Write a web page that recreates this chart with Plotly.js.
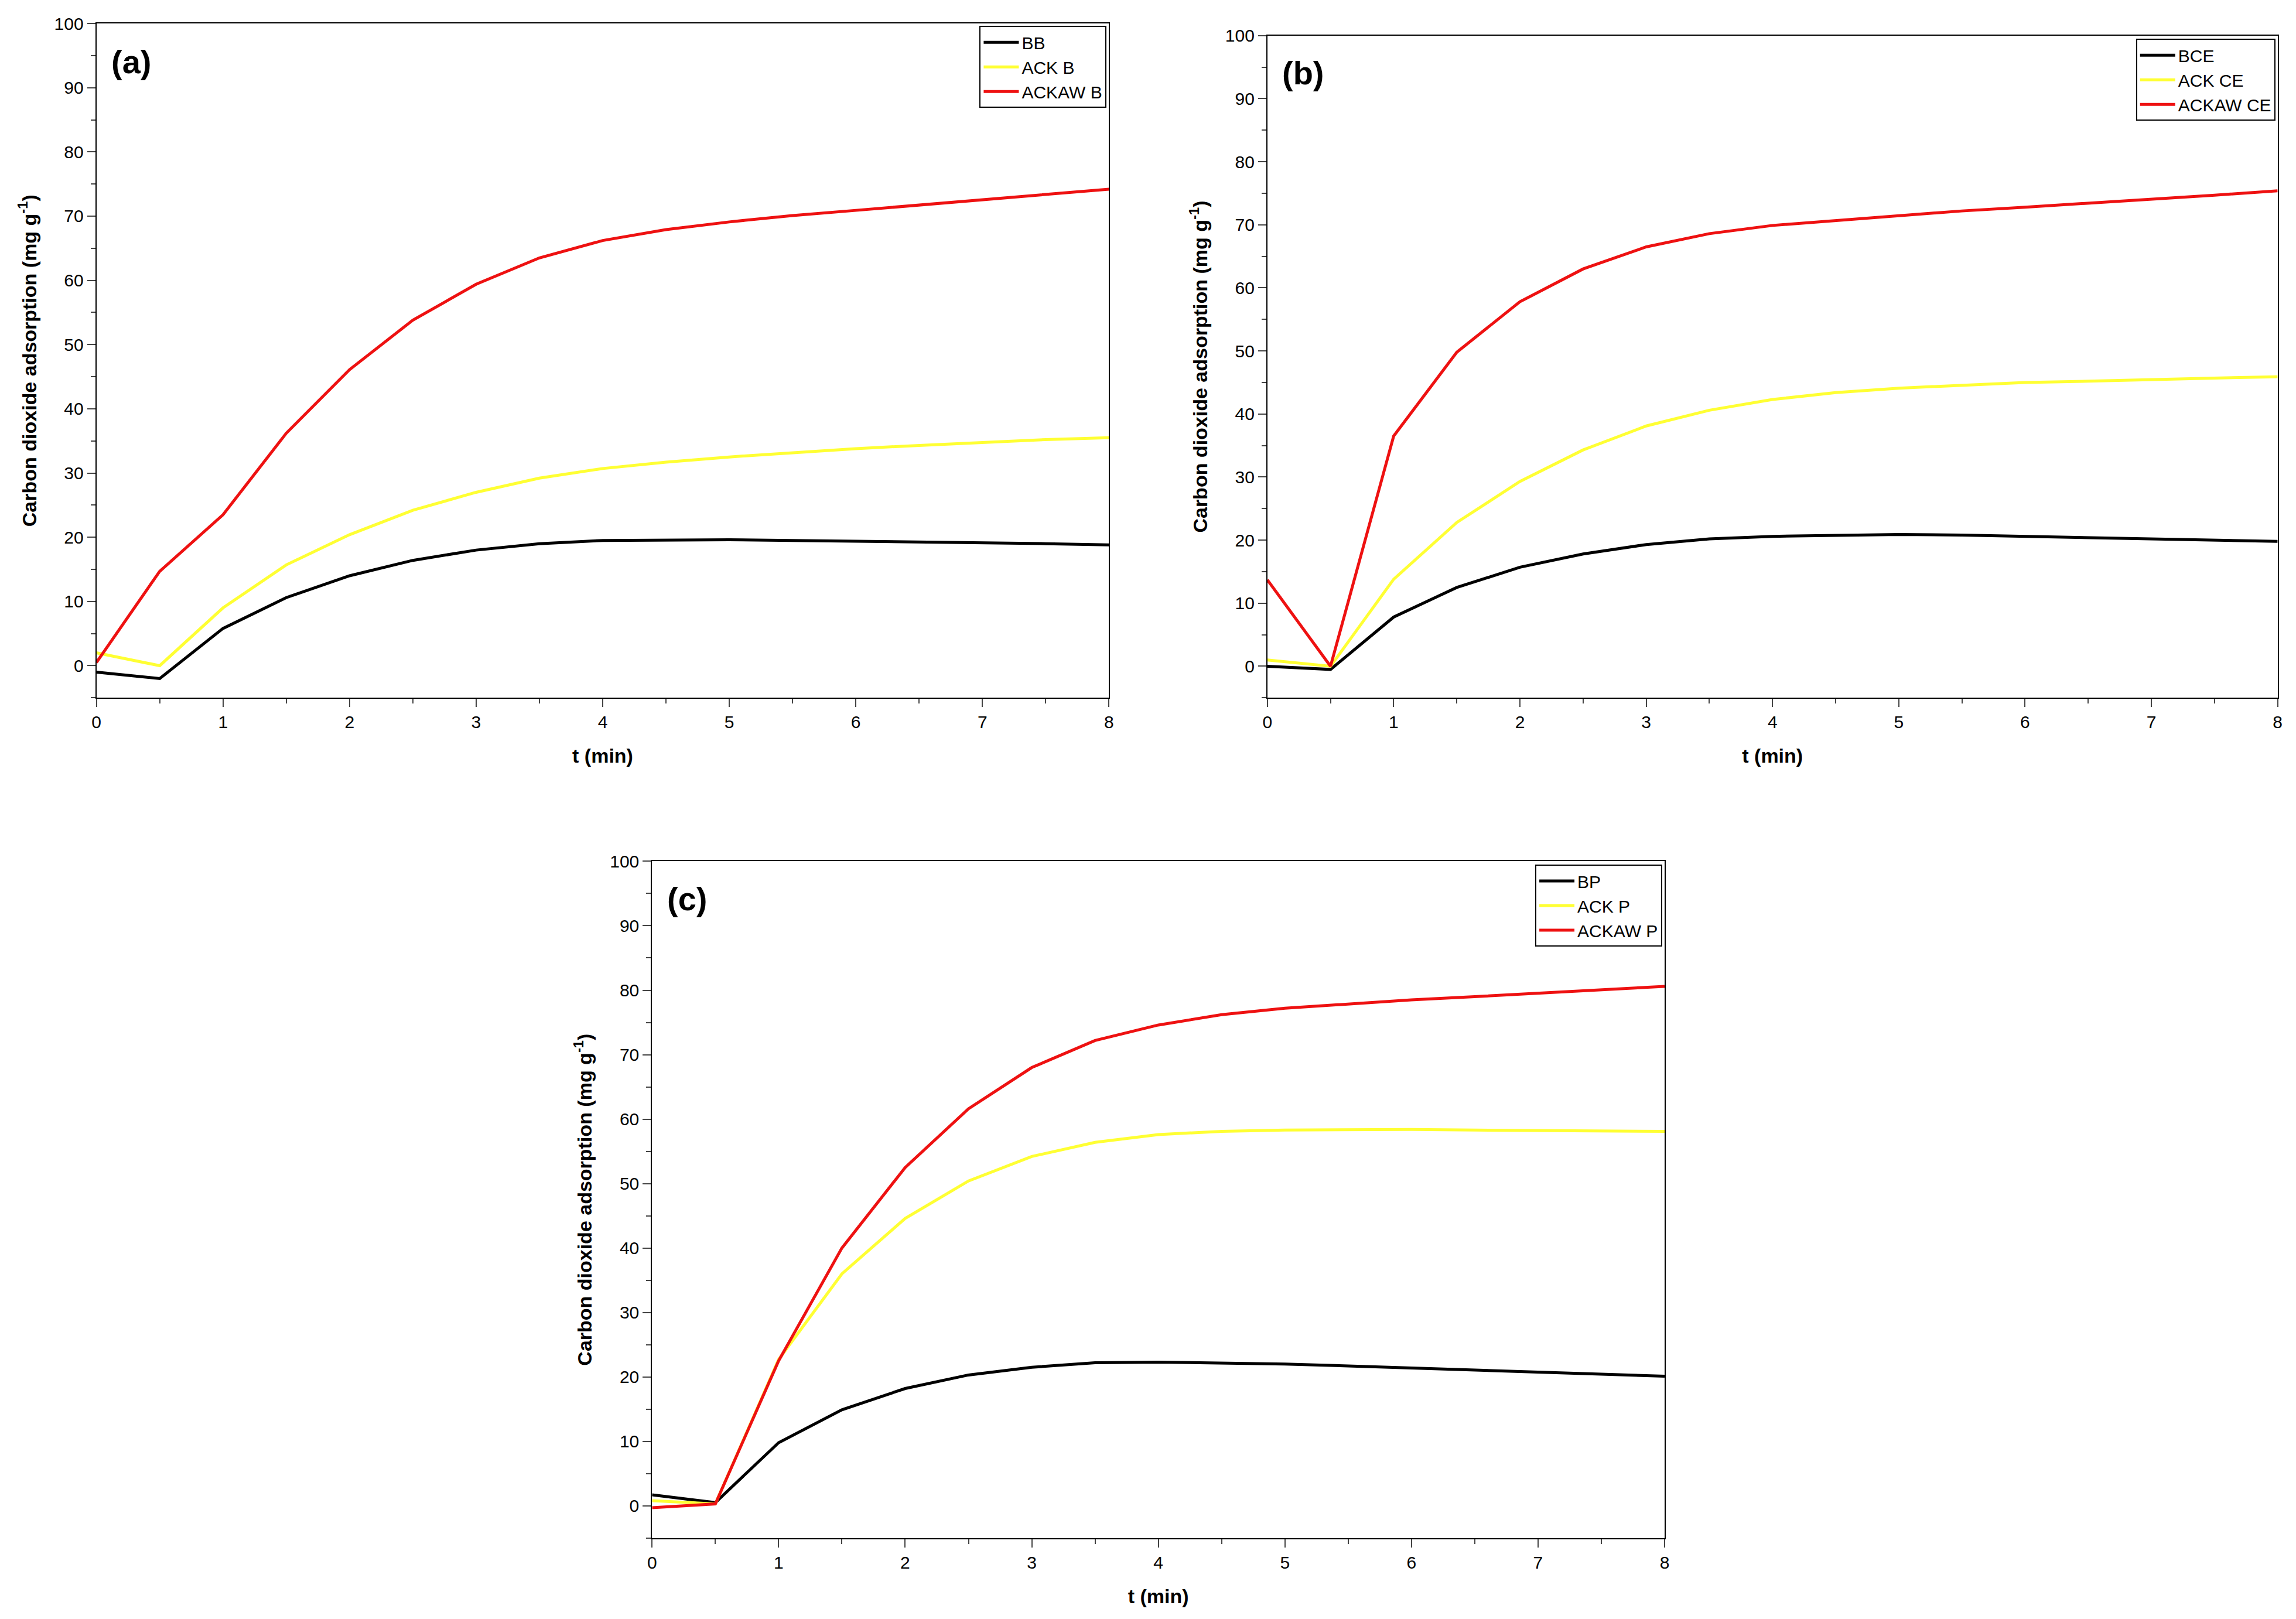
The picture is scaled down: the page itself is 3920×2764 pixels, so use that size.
<!DOCTYPE html>
<html>
<head>
<script src="https://cdn.plot.ly/plotly-3.0.1.min.js"></script>
<style>body{margin:0;background:#fff}</style>
</head>
<body>
<div id="chart" style="width:3920px;height:2764px"></div>
<script>
const t = [0, 0.5, 1, 1.5, 2, 2.5, 3, 3.5, 4, 4.5, 5, 5.5, 6, 6.5, 7, 7.5, 8];

const bb = [-1, -2, 5.8, 10.6, 14, 16.4, 18, 19, 19.5, 19.6, 19.6, 19.5, 19.4, 19.3, 19.1, 19, 18.8];
const ackB = [2, 0, 9, 15.7, 20.4, 24.2, 27, 29.2, 30.7, 31.7, 32.5, 33.2, 33.8, 34.3, 34.8, 35.2, 35.5];
const ackawB = [0.5, 14.7, 23.5, 36.2, 46.1, 53.8, 59.4, 63.5, 66.2, 67.9, 69.1, 70.1, 70.9, 71.7, 72.5, 73.3, 74.2];

const bce = [0, -0.5, 7.8, 12.5, 15.7, 17.8, 19.3, 20.2, 20.6, 20.8, 20.9, 20.8, 20.6, 20.4, 20.2, 20, 19.8];
const ackCE = [1, 0, 13.8, 22.8, 29.3, 34.3, 38.1, 40.6, 42.3, 43.4, 44.1, 44.6, 45, 45.2, 45.5, 45.7, 45.9];
const ackawCE = [13.7, 0, 36.5, 49.8, 57.8, 63, 66.5, 68.6, 69.9, 70.7, 71.5, 72.2, 72.8, 73.4, 74.1, 74.7, 75.4];

const bp = [1.7, 0.5, 9.8, 14.9, 18.2, 20.3, 21.5, 22.2, 22.3, 22.2, 22, 21.7, 21.4, 21.1, 20.8, 20.4, 20.1];
const ackP = [0.8, 0.3, 22.7, 36, 44.6, 50.4, 54.2, 56.4, 57.6, 58.1, 58.3, 58.4, 58.4, 58.3, 58.2, 58.1, 58.1];
const ackawP = [-0.3, 0.3, 22.5, 40, 52.5, 61.6, 68, 72.2, 74.6, 76.2, 77.2, 77.9, 78.5, 79, 79.5, 80, 80.6];

const colors = ['#000000', '#ffff33', '#ee1111'];
const panels = [
    {names: ['BB', 'ACK B', 'ACKAW B'], ys: [bb, ackB, ackawB], ax: '', legend: 'legend'},
    {names: ['BCE', 'ACK CE', 'ACKAW CE'], ys: [bce, ackCE, ackawCE], ax: '2', legend: 'legend2'},
    {names: ['BP', 'ACK P', 'ACKAW P'], ys: [bp, ackP, ackawP], ax: '3', legend: 'legend3'},
];

let data = [];
panels.forEach((p) => {
    p.ys.forEach((y, i) => {
        data.push({
            x: t, y: y, name: p.names[i], type: 'scatter', mode: 'lines',
            line: {color: colors[i], width: 5},
            xaxis: 'x' + p.ax, yaxis: 'y' + p.ax, legend: p.legend
        });
    });
});

const font = {family: 'Liberation Sans, Arial, sans-serif', size: 30, color: '#000'};
const xax = (dom, anchor) => ({
    domain: dom, anchor: anchor, range: [0, 8], dtick: 1, ticks: 'outside', ticklen: 14, tickwidth: 2,
    minor: {dtick: 0.5, ticks: 'outside', ticklen: 8, tickwidth: 2},
    showline: true, mirror: true, linewidth: 2, linecolor: '#000', showgrid: false, zeroline: false,
    title: {text: '<b>t (min)</b>', font: {size: 34}, standoff: 30}
});
const yax = (dom, anchor) => ({
    domain: dom, anchor: anchor, range: [-5, 100], dtick: 10, ticks: 'outside', ticklen: 14, tickwidth: 2,
    minor: {dtick: 5, ticks: 'outside', ticklen: 8, tickwidth: 2},
    showline: true, mirror: true, linewidth: 2, linecolor: '#000', showgrid: false, zeroline: false,
    title: {text: '<b>Carbon dioxide adsorption (mg g<sup>-1</sup>)</b>', font: {size: 34}, standoff: 20}
});
const leg = (x, y) => ({
    x: x, y: y, xanchor: 'right', yanchor: 'top', bgcolor: '#fff', bordercolor: '#000', borderwidth: 2,
    font: {size: 30}, tracegroupgap: 0, itemwidth: 60
});

let layout = {
    font: font,
    paper_bgcolor: '#fff', plot_bgcolor: '#fff',
    margin: {l: 0, r: 0, t: 0, b: 0},
    showlegend: true,
    xaxis: xax([0.042, 0.483], 'y'), yaxis: yax([0.569, 0.9855], 'x'),
    xaxis2: xax([0.552, 0.992], 'y2'), yaxis2: yax([0.569, 0.978], 'x2'),
    xaxis3: xax([0.284, 0.725], 'y3'), yaxis3: yax([0.050, 0.468], 'x3'),
    legend: leg(0.482, 0.984),
    legend2: leg(0.991, 0.976),
    legend3: leg(0.724, 0.466),
    annotations: [
        {text: '<b>(a)</b>', x: 0.048, y: 0.974, xref: 'paper', yref: 'paper', xanchor: 'left', yanchor: 'top', showarrow: false, font: {size: 56}},
        {text: '<b>(b)</b>', x: 0.558, y: 0.967, xref: 'paper', yref: 'paper', xanchor: 'left', yanchor: 'top', showarrow: false, font: {size: 56}},
        {text: '<b>(c)</b>', x: 0.290, y: 0.457, xref: 'paper', yref: 'paper', xanchor: 'left', yanchor: 'top', showarrow: false, font: {size: 56}},
    ]
};

Plotly.newPlot('chart', data, layout, {displayModeBar: false});
</script>
</body>
</html>
